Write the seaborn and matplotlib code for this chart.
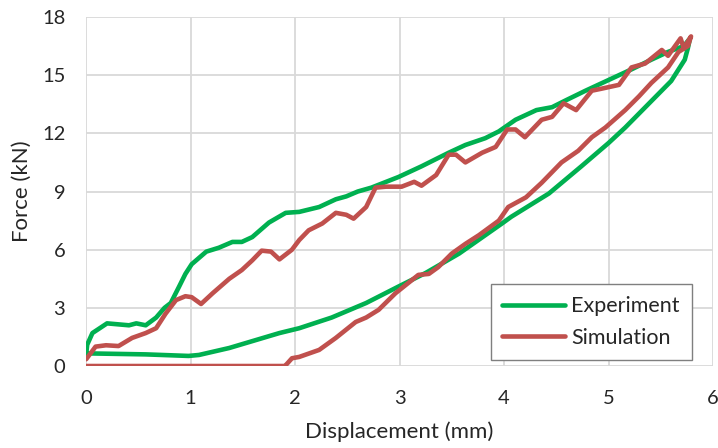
import pandas as pd
import seaborn as sns
import matplotlib.pyplot as plt

# Courbe expérimentale : charge puis décharge
exp_x = [0.0, 0.01, 0.06, 0.2, 0.41, 0.48, 0.57, 0.67, 0.75, 0.81, 0.89, 0.95, 1.01, 1.15, 1.27,
         1.4, 1.49, 1.59, 1.75, 1.91, 2.04, 2.23, 2.39, 2.49, 2.6, 2.73, 2.99, 3.21, 3.47,
         3.63, 3.82, 3.95, 4.11, 4.31, 4.46, 4.59, 4.78, 5.0, 5.22, 5.41, 5.57, 5.72, 5.78,
         5.76, 5.73, 5.6, 5.38, 5.16, 5.0, 4.74, 4.43, 4.07, 3.98, 3.57, 3.25, 2.99, 2.68,
         2.35, 2.04, 1.85, 1.37, 1.08, 0.98, 0.57, 0.03, 0.0]
exp_y = [0.6, 1.1, 1.7, 2.2, 2.1, 2.2, 2.1, 2.5, 3.0, 3.25, 4.1, 4.75, 5.25, 5.9, 6.1,
         6.4, 6.4, 6.65, 7.4, 7.9, 7.95, 8.2, 8.6, 8.75, 9.0, 9.2, 9.75, 10.3, 11.0,
         11.4, 11.75, 12.1, 12.7, 13.2, 13.35, 13.7, 14.2, 14.75, 15.3, 15.8, 16.2, 16.5, 16.9,
         16.4, 15.8, 14.7, 13.5, 12.3, 11.5, 10.3, 8.9, 7.7, 7.35, 5.8, 4.8, 4.1, 3.25,
         2.5, 1.95, 1.7, 0.93, 0.57, 0.52, 0.6, 0.65, 0.65]

# Courbe de simulation : charge puis décharge
sim_x = [0.0, 0.09, 0.19, 0.31, 0.44, 0.57, 0.67, 0.76, 0.86, 0.95, 1.01, 1.1, 1.21, 1.37,
         1.49, 1.59, 1.68, 1.77, 1.85, 1.97, 2.04, 2.13, 2.26, 2.39, 2.49, 2.56, 2.68, 2.77,
         2.87, 3.02, 3.14, 3.21, 3.35, 3.47, 3.54, 3.63, 3.79, 3.92, 4.03, 4.11, 4.2, 4.36,
         4.46, 4.57, 4.69, 4.84, 4.93, 5.1, 5.22, 5.35, 5.51, 5.57, 5.69, 5.72, 5.79,
         5.76, 5.67, 5.57, 5.41, 5.29, 5.16, 4.97, 4.84, 4.71, 4.55, 4.36, 4.21, 4.04, 3.95,
         3.76, 3.63, 3.5, 3.37, 3.28, 3.18, 2.96, 2.8, 2.68, 2.58, 2.39, 2.23, 2.04, 1.97,
         1.92, 1.9, 0.0]
sim_y = [0.35, 1.0, 1.07, 1.03, 1.45, 1.7, 1.95, 2.7, 3.4, 3.6, 3.55, 3.2, 3.75, 4.5,
         4.95, 5.45, 5.95, 5.9, 5.5, 6.0, 6.5, 7.0, 7.35, 7.9, 7.8, 7.6, 8.2, 9.2,
         9.25, 9.25, 9.5, 9.3, 9.85, 10.9, 10.9, 10.5, 11.0, 11.3, 12.2, 12.2, 11.8, 12.7,
         12.85, 13.55, 13.2, 14.2, 14.3, 14.5, 15.4, 15.6, 16.3, 16.0, 16.9, 16.4, 17.0,
         16.5, 16.2, 15.4, 14.6, 13.9, 13.2, 12.3, 11.8, 11.1, 10.5, 9.45, 8.7, 8.2, 7.5,
         6.75, 6.3, 5.8, 5.1, 4.75, 4.7, 3.75, 2.9, 2.5, 2.27, 1.45, 0.83, 0.47, 0.4,
         0.1, 0.0, 0.0]

df = pd.concat([
    pd.DataFrame({'x': exp_x, 'y': exp_y, 'serie': 'Experiment'}),
    pd.DataFrame({'x': sim_x, 'y': sim_y, 'serie': 'Simulation'}),
])

sns.set_style('white')
plt.rcParams['font.family'] = ['Lato', 'DejaVu Sans']

fig = plt.figure(figsize=(7.18, 4.48), dpi=100)
ax = fig.add_axes([0.12, 0.183, 0.873, 0.779])

sns.lineplot(
    data=df, x='x', y='y', hue='serie', sort=False, estimator=None, units='serie',
    palette={'Experiment': '#00B050', 'Simulation': '#C0504D'},
    linewidth=3.3, solid_joinstyle='round', solid_capstyle='round', ax=ax
)

ax.set_xlim(0, 6)
ax.set_ylim(0, 18)
ax.set_xticks(range(0, 7))
ax.set_yticks(range(0, 19, 3))
ax.grid(True, color='#D9D9D9', linewidth=1.3)
ax.set_axisbelow(True)
for s in ax.spines.values():
    s.set_visible(False)
ax.tick_params(axis='both', length=0, labelsize=14.5, colors='#262626')
ax.tick_params(axis='x', pad=17)
ax.tick_params(axis='y', pad=15)
ax.set_xlabel('Displacement (mm)', fontsize=16, color='#262626')
ax.set_ylabel('Force (kN)', fontsize=16, color='#262626')
ax.xaxis.set_label_coords(0.5, -0.16)
ax.yaxis.set_label_coords(-0.086, 0.5)

leg = ax.legend(loc='lower right', bbox_to_anchor=(0.966, 0.018), fontsize=15.5,
                frameon=True, fancybox=False, framealpha=1, edgecolor='#7F7F7F',
                handlelength=2.9, handletextpad=0.3, borderpad=0.55, labelspacing=0.55,
                borderaxespad=0, title=None)
leg.get_frame().set_linewidth(1.0)
for t in leg.get_texts():
    t.set_color('#262626')

plt.savefig('out.png')
plt.close()
